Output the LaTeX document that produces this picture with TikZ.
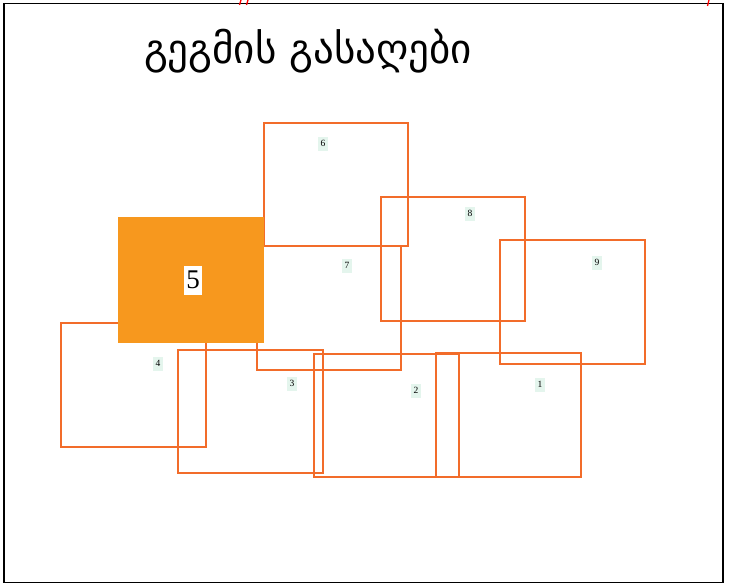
\documentclass[tikz,border=0pt]{standalone}
\usepackage{fontspec}
\setmainfont{Liberation Serif}
\newfontfamily\geo{DejaVu Sans}
\definecolor{edge}{RGB}{242,108,42}
\definecolor{fillor}{RGB}{247,152,30}
\definecolor{mint}{RGB}{228,245,237}
\tikzset{
  plot/.style={draw=edge, line width=2.2pt, anchor=north west, inner sep=0pt, outer sep=0pt},
  lab/.style={fill=mint, font=\fontsize{9.5}{9.5}\selectfont, inner sep=2.6pt, text height=7pt, text depth=1pt},
}
\begin{document}
\begin{tikzpicture}[x=1pt,y=-1pt]
\useasboundingbox (0,0) rectangle (732,585);
\fill[white] (0,0) rectangle (732,585);
\node[draw=black, line width=1.5pt, anchor=north west, inner sep=0pt, minimum width=719pt, minimum height=579pt] (frame) at (3,3) {};
% clipped red fragments at top
\draw[red, line width=1.3pt] (241,0) -- (239.5,5) (248,0) -- (246.5,5) (709,0) -- (707.5,6);
\node[font=\geo\fontsize{41}{41}\selectfont, anchor=base] (title) at (308,64) {გეგმის გასაღები};
% plan rectangles
\node[plot, minimum width=144pt, minimum height=123pt] (r6) at (264,123) {};
\node[plot, minimum width=144pt, minimum height=124pt] (r7) at (257,246) {};
\node[plot, minimum width=144pt, minimum height=124pt] (r8) at (381,197) {};
\node[plot, minimum width=145pt, minimum height=124pt] (r9) at (500,240) {};
\node[plot, minimum width=145pt, minimum height=124pt] (r1) at (436,353) {};
\node[plot, minimum width=145pt, minimum height=123pt] (r2) at (314,354) {};
\node[plot, minimum width=145pt, minimum height=123pt] (r3) at (178,350) {};
\node[plot, minimum width=145pt, minimum height=124pt] (r4) at (61,323) {};
\node[fill=fillor, anchor=north west, inner sep=0pt, outer sep=0pt, minimum width=146pt, minimum height=126pt] (r5) at (118,217) {};
% labels
\node[lab] (l6) at (323,144) {6};
\node[lab] (l7) at (347,266) {7};
\node[lab] (l8) at (470,214) {8};
\node[lab] (l9) at (597,263) {9};
\node[lab] (l1) at (540,385) {1};
\node[lab] (l2) at (416,391) {2};
\node[lab] (l3) at (292,384) {3};
\node[lab] (l4) at (158,364) {4};
\node[fill=white, font=\fontsize{27}{27}\selectfont, inner sep=2pt, text height=20pt, text depth=5pt] (l5) at (193,281) {5};
\end{tikzpicture}
\end{document}
